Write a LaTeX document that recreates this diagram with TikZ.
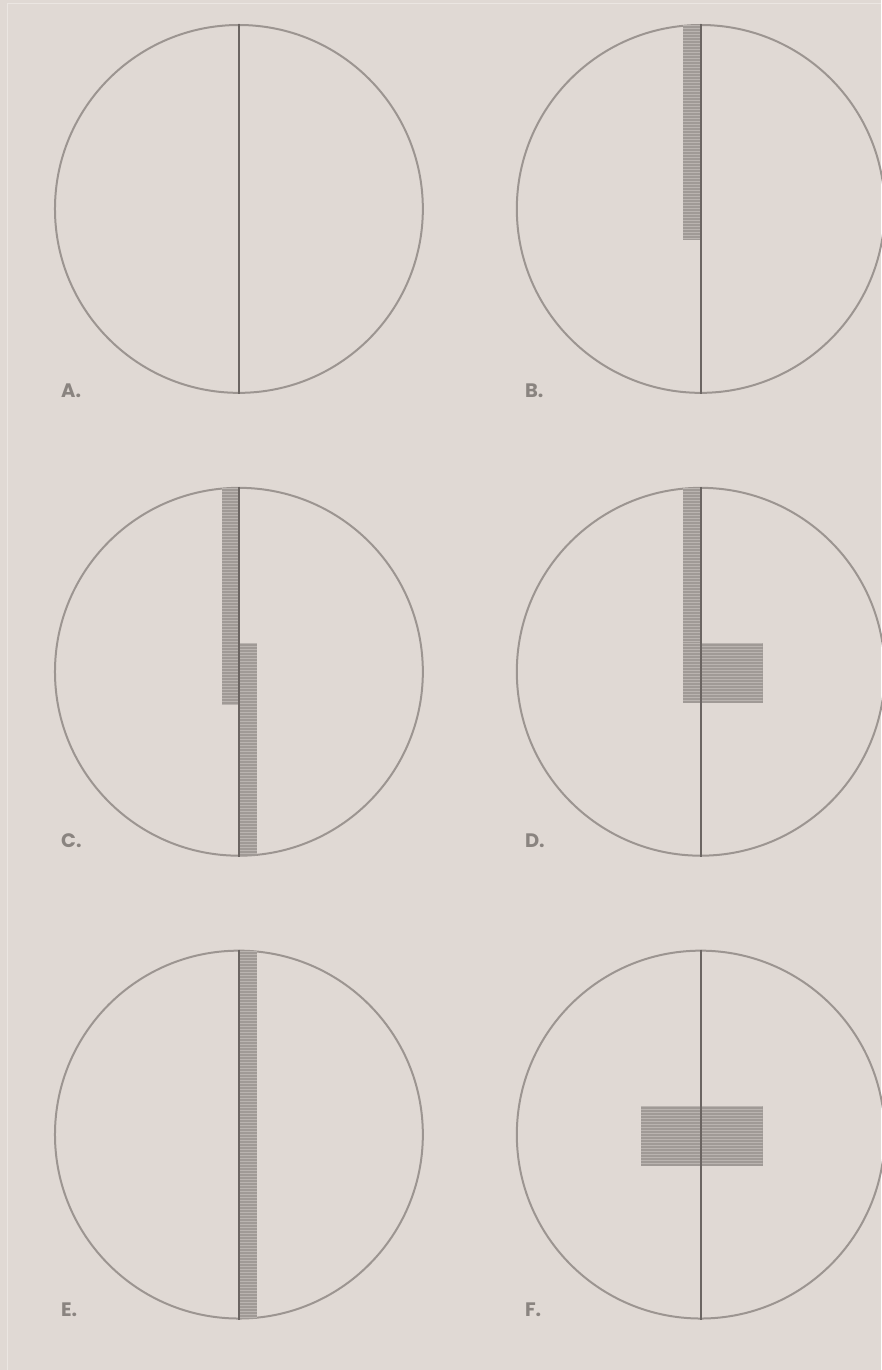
\documentclass[tikz,border=0pt]{standalone}
\usepackage{fontspec}
\setmainfont{Poppins}
\usepackage{tikz}
\definecolor{paper}{HTML}{E0D9D4}
\definecolor{frameline}{HTML}{EBE6E2}
\definecolor{rim}{HTML}{9C9591}
\definecolor{axisgray}{HTML}{6B6562}
\definecolor{hatchgray}{HTML}{A09A96}
\definecolor{stripegray}{HTML}{BAB4B0}
\definecolor{labelgray}{HTML}{8A8480}

\begin{document}
\begin{tikzpicture}[x=1pt,y=-1pt,
  disc/.style={draw=rim,line width=2pt,circle,minimum size=368pt,inner sep=0pt},
  axis/.style={draw=axisgray,line width=2.4pt},
  hatch/.style={fill=hatchgray,path picture={
      \foreach \s in {1,4,...,400}
        \draw[stripegray,line width=1pt]
          ([yshift=-\s pt]path picture bounding box.north west) --
          ([yshift=-\s pt]path picture bounding box.north east);}},
  tag/.style={anchor=west,text=labelgray,font=\bfseries\fontsize{19.5}{19.5}\selectfont,inner sep=0pt}
]
\fill[paper] (0,0) rectangle (881,1370);
\draw[frameline,line width=1pt] (8,1370) -- (8,4) -- (881,4);
\useasboundingbox (0,0) rectangle (881,1370);

% row 1
\node[disc] (cA) at (239,209) {};
\node[disc] (cB) at (701,209) {};
\fill[hatch] (683,25) rectangle (700,240);
\draw[axis] (cA.north) -- (cA.south);
\draw[axis] (cB.north) -- (cB.south);
\node[tag] (labA) at (61,391) {A.};
\node[tag] (labB) at (525,391) {B.};

% row 2
\node[disc] (cC) at (239,672) {};
\node[disc] (cD) at (701,672) {};
\fill[hatch] (222,488) rectangle (239,705);
\fill[hatch] (239,643) rectangle (257,856);
\fill[hatch] (683,488) rectangle (700,703);
\fill[hatch] (683,643) rectangle (763,703);
\draw[axis] (cC.north) -- (cC.south);
\draw[axis] (cD.north) -- (cD.south);
\node[tag] (labC) at (61,841) {C.};
\node[tag] (labD) at (525,841) {D.};

% row 3
\node[disc] (cE) at (239,1135) {};
\node[disc] (cF) at (701,1135) {};
\fill[hatch] (239,951) rectangle (257,1319);
\fill[hatch] (641,1106) rectangle (763,1166);
\draw[axis] (cE.north) -- (cE.south);
\draw[axis] (cF.north) -- (cF.south);
\node[tag] (labE) at (61,1310) {E.};
\node[tag] (labF) at (525,1310) {F.};
\end{tikzpicture}
\end{document}
